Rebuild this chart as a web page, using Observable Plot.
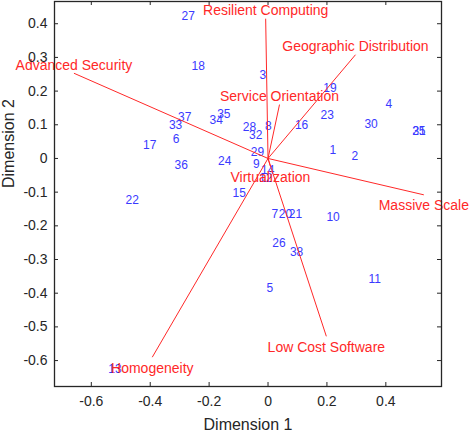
<!DOCTYPE html>
<html><head><meta charset="utf-8">
<script src="https://cdn.jsdelivr.net/npm/d3@7"></script>
<script src="https://cdn.jsdelivr.net/npm/@observablehq/plot@0.6"></script>
<style>body{margin:0;background:#fff}</style>
</head><body><div id="chart"></div>
<script>
// Observations (scores)
const obsIds = ["1","2","3","4","5","6","7","8","9","10","11","12","13","14","15","16","17","18","19","20","21","22","23","24","25","26","27","28","29","30","31","32","33","34","35","36","37","38"];
const obsX = [0.220,0.295,-0.018,0.410,0.006,-0.312,0.023,0.001,-0.040,0.221,0.362,-0.008,-0.520,-0.001,-0.098,0.114,-0.402,-0.237,0.210,0.059,0.093,-0.461,0.201,-0.147,0.512,0.037,-0.271,-0.063,-0.036,0.350,0.513,-0.042,-0.314,-0.176,-0.150,-0.295,-0.283,0.097];
const obsY = [0.026,0.008,0.247,0.162,-0.384,0.056,-0.164,0.097,-0.016,-0.174,-0.358,-0.058,-0.625,-0.036,-0.104,0.100,0.040,0.273,0.210,-0.164,-0.164,-0.125,0.130,-0.008,0.080,-0.250,0.423,0.093,0.019,0.103,0.080,0.069,0.099,0.113,0.131,-0.019,0.123,-0.278];

// Variables (loadings)
const varNames = ["Advanced Security","Resilient Computing","Geographic Distribution","Service Orientation","Massive Scale","Low Cost Software","Homogeneity","Virtualization"];
const varX = [-0.659,-0.008,0.297,0.039,0.529,0.198,-0.393,0.008];
const varY = [0.253,0.415,0.308,0.160,-0.108,-0.528,-0.590,-0.023];

const xTicks = [-0.6,-0.4,-0.2,0,0.2,0.4];
const yTicks = [-0.6,-0.5,-0.4,-0.3,-0.2,-0.1,0,0.1,0.2,0.3,0.4];

const W = 472, H = 433, mL = 54, mR = 31, mT = 1, mB = 47;
const innerW = W - mL - mR, innerH = H - mT - mB;
const tickLen = 4;
const BLUE = "#3a3aff", RED = "#ff2828", AX = "#262626";

const obs = obsIds.map((id, i) => ({id, x: obsX[i], y: obsY[i]}));
const vars = varNames.map((name, i) => ({name, x: varX[i], y: varY[i]}));
const fmt = d => d === 0 ? "0" : d.toFixed(1);

const chart = Plot.plot({
  width: W, height: H,
  marginLeft: mL, marginRight: mR, marginTop: mT, marginBottom: mB,
  x: {domain: [-0.725, 0.589]},
  y: {domain: [-0.677, 0.466]},
  style: {fontFamily: "'Liberation Sans', Arial, sans-serif", fontSize: "14px", color: AX, background: "white", overflow: "visible"},
  marks: [
    Plot.text(obs, {x: "x", y: "y", text: "id", fill: BLUE, fontSize: 12}),
    Plot.link(vars, {x1: () => 0, y1: () => 0, x2: "x", y2: "y", stroke: RED, strokeWidth: 1}),
    Plot.text(vars.filter(d => d.y >= 0), {x: "x", y: "y", text: "name", fill: RED, fontSize: 14, dy: -8}),
    Plot.text(vars.filter(d => d.y < 0), {x: "x", y: "y", text: "name", fill: RED, fontSize: 14, dy: 11}),
    Plot.frame({stroke: AX, strokeWidth: 1.3}),
    Plot.tickX(xTicks, {x: d => d, insetTop: innerH - tickLen, stroke: AX}),
    Plot.tickX(xTicks, {x: d => d, insetBottom: innerH - tickLen, stroke: AX}),
    Plot.tickY(yTicks, {y: d => d, insetRight: innerW - tickLen, stroke: AX}),
    Plot.tickY(yTicks, {y: d => d, insetLeft: innerW - tickLen, stroke: AX}),
    Plot.axisX({ticks: xTicks, tickFormat: fmt, tickSize: 0, tickPadding: 10, label: null}),
    Plot.axisY({ticks: yTicks, tickFormat: fmt, tickSize: 0, tickPadding: 7, label: null}),
    Plot.text(["Dimension 1"], {frameAnchor: "bottom", text: d => d, dy: 43, fontSize: 16, fill: AX}),
    Plot.text(["Dimension 2"], {frameAnchor: "left", text: d => d, dx: -46, dy: -6, rotate: -90, fontSize: 16, fill: AX})
  ]
});
document.getElementById("chart").append(chart);
</script>
</body></html>
